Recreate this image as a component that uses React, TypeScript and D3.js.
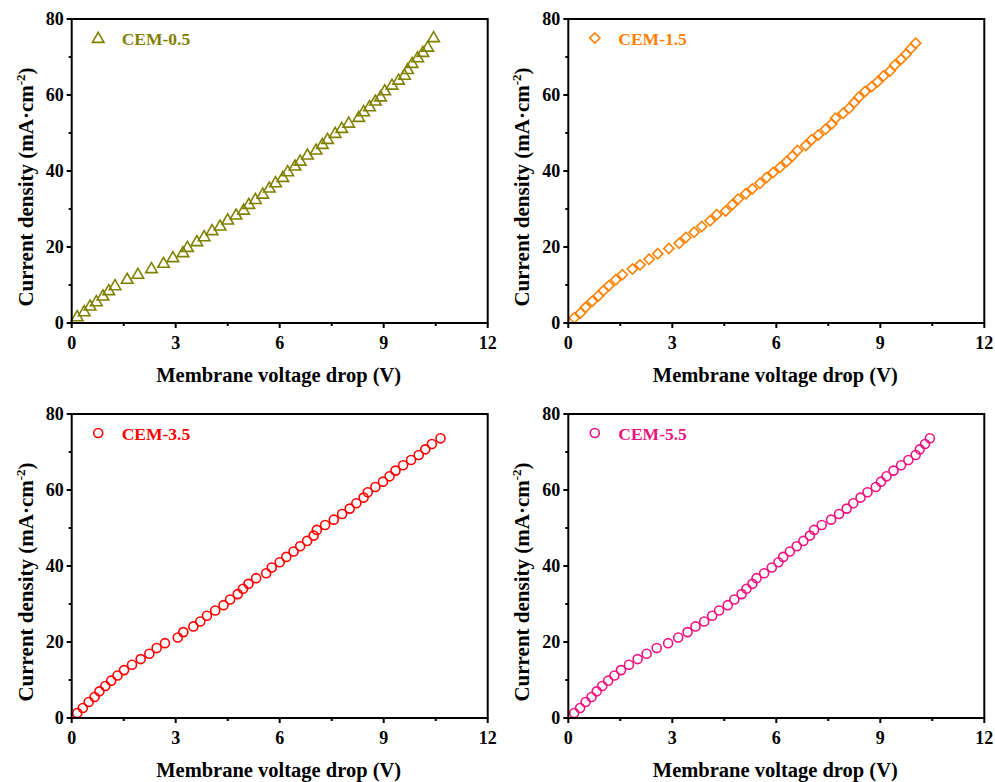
import React from "react";
import * as d3 from "d3";

const xTicks = [0, 3, 6, 9, 12];
const yTicks = [0, 20, 40, 60, 80];
const xMinor = [1.5, 4.5, 7.5, 10.5];
const yMinor = [10, 30, 50, 70];

const v05 = [0.16,0.36,0.53,0.71,0.90,1.07,1.25,1.60,1.91,2.30,2.65,2.92,3.21,3.34,3.61,3.82,4.05,4.28,4.50,4.74,4.96,5.11,5.30,5.51,5.70,5.88,6.09,6.23,6.44,6.59,6.80,7.05,7.23,7.38,7.60,7.79,7.99,8.28,8.42,8.59,8.76,8.91,9.03,9.24,9.43,9.60,9.69,9.82,9.98,10.13,10.27,10.44];
const j05 = [1.75,3.07,4.56,5.7,7.2,8.6,9.9,11.6,12.9,14.4,15.8,17.3,18.6,20.0,21.5,22.8,24.4,25.6,27.2,28.5,29.8,31.3,32.6,34.0,35.6,37.0,38.4,39.9,41.4,42.7,44.3,45.6,47.1,48.4,50.0,51.3,52.7,54.2,55.7,57.0,58.5,59.6,61.2,62.7,64.0,65.3,66.8,68.4,69.9,71.3,72.7,75.2];

const v15 = [0.17,0.35,0.50,0.69,0.87,1.01,1.17,1.37,1.56,1.85,2.07,2.33,2.58,2.90,3.20,3.39,3.63,3.85,4.09,4.28,4.54,4.73,4.90,5.12,5.31,5.53,5.72,5.91,6.11,6.30,6.46,6.61,6.85,7.02,7.21,7.42,7.60,7.71,7.93,8.10,8.25,8.38,8.56,8.75,8.92,9.09,9.28,9.42,9.60,9.74,9.88,10.02];
const j15 = [1.31,2.63,4.12,5.70,7.19,8.50,9.82,11.4,12.7,14.2,15.3,16.8,18.2,19.6,21.0,22.5,23.9,25.4,26.9,28.5,29.5,31.1,32.6,34.0,35.3,36.8,38.3,39.6,41.0,42.5,43.9,45.4,46.7,48.2,49.5,51.0,52.4,53.9,55.2,56.5,58.0,59.4,60.9,62.2,63.5,65.0,66.3,67.9,69.4,70.7,72.2,73.6];

const v35 = [0.16,0.32,0.49,0.66,0.80,0.97,1.14,1.32,1.51,1.74,1.99,2.24,2.45,2.69,3.06,3.22,3.51,3.71,3.90,4.14,4.38,4.57,4.79,4.94,5.10,5.32,5.61,5.77,6.00,6.19,6.40,6.59,6.79,6.98,7.07,7.31,7.56,7.80,8.02,8.21,8.42,8.54,8.76,8.98,9.17,9.34,9.56,9.79,10.01,10.20,10.39,10.64];
const j35 = [1.31,2.63,4.21,5.52,7.01,8.41,9.82,11.2,12.6,14.0,15.5,16.9,18.4,19.7,21.2,22.6,24.1,25.4,26.9,28.3,29.7,31.2,32.6,34.0,35.3,36.8,38.1,39.6,41.0,42.4,43.8,45.2,46.6,48.0,49.5,50.8,52.2,53.7,55.1,56.5,58.0,59.4,60.8,62.2,63.6,65.1,66.5,67.9,69.2,70.7,72.1,73.6];

const v55 = [0.17,0.34,0.50,0.67,0.82,0.98,1.15,1.33,1.52,1.75,2.00,2.26,2.55,2.88,3.17,3.44,3.67,3.92,4.15,4.35,4.60,4.79,5.00,5.14,5.31,5.43,5.65,5.87,6.06,6.20,6.39,6.59,6.78,6.97,7.09,7.31,7.58,7.81,8.03,8.22,8.43,8.63,8.87,9.02,9.18,9.38,9.60,9.81,10.02,10.14,10.29,10.43];
const j55 = [1.31,2.63,4.21,5.52,7.01,8.41,9.82,11.2,12.6,14.0,15.5,16.9,18.4,19.7,21.2,22.6,24.1,25.4,26.9,28.3,29.7,31.2,32.6,34.0,35.3,36.8,38.1,39.6,41.0,42.4,43.8,45.2,46.6,48.0,49.5,50.8,52.2,53.7,55.1,56.5,58.0,59.4,60.8,62.2,63.6,65.1,66.5,67.9,69.2,70.7,72.1,73.6];

const seriesNames = ["CEM-0.5", "CEM-1.5", "CEM-3.5", "CEM-5.5"];
const seriesColors = ["#808000", "#FF8000", "#FF0000", "#EE1280"];
const seriesShapes = ["triangle", "diamond", "circle", "circle"];
const seriesV = [v05, v15, v35, v55];
const seriesJ = [j05, j15, j35, j55];

const FONT = "'Liberation Serif', 'Times New Roman', serif";
const PW = 416;
const PH = 304;
const origins = [
  [71.7, 19],
  [568.3, 19],
  [71.7, 414],
  [568.3, 414],
];

const symbolTypes: Record<string, d3.SymbolType> = {
  triangle: d3.symbolTriangle,
  diamond: d3.symbolSquare,
  circle: d3.symbolCircle,
};
const symbolSizes: Record<string, number> = {
  triangle: 58,
  diamond: 52,
  circle: 64,
};

function Marker({ shape, x, y, color }: { shape: string; x: number; y: number; color: string }) {
  const path = d3.symbol().type(symbolTypes[shape]).size(symbolSizes[shape])()!;
  const rot = shape === "diamond" ? " rotate(45)" : "";
  const dy = shape === "triangle" ? 1 : 0;
  return (
    <path
      d={path}
      transform={`translate(${x},${y + dy})${rot}`}
      fill="none"
      stroke={color}
      strokeWidth={1.6}
    />
  );
}

function Panel({ idx }: { idx: number }) {
  const [ox, oy] = origins[idx];
  const x = d3.scaleLinear().domain([0, 12]).range([0, PW]);
  const y = d3.scaleLinear().domain([0, 80]).range([PH, 0]);
  const color = seriesColors[idx];
  const shape = seriesShapes[idx];
  const vs = seriesV[idx];
  const js = seriesJ[idx];
  return (
    <g transform={`translate(${ox},${oy})`}>
      {vs.map((v, i) => (
        <Marker key={i} shape={shape} x={x(v)} y={y(js[i])} color={color} />
      ))}
      <rect x={0} y={0} width={PW} height={PH} fill="none" stroke="#000" strokeWidth={2} />
      {xTicks.map((t) => (
        <g key={"xt" + t}>
          <line x1={x(t)} x2={x(t)} y1={PH} y2={PH + 5} stroke="#000" strokeWidth={2} />
          <text
            x={x(t)}
            y={PH + 26}
            textAnchor="middle"
            fontFamily={FONT}
            fontWeight="bold"
            fontSize={18}
          >
            {t}
          </text>
        </g>
      ))}
      {xMinor.map((t) => (
        <line key={"xm" + t} x1={x(t)} x2={x(t)} y1={PH} y2={PH + 3} stroke="#000" strokeWidth={2} />
      ))}
      {yTicks.map((t) => (
        <g key={"yt" + t}>
          <line x1={-5} x2={0} y1={y(t)} y2={y(t)} stroke="#000" strokeWidth={2} />
          <text
            x={-8}
            y={y(t) + 6}
            textAnchor="end"
            fontFamily={FONT}
            fontWeight="bold"
            fontSize={18}
          >
            {t}
          </text>
        </g>
      ))}
      {yMinor.map((t) => (
        <line key={"ym" + t} x1={-3} x2={0} y1={y(t)} y2={y(t)} stroke="#000" strokeWidth={2} />
      ))}
      <text
        x={PW / 2 - 1}
        y={PH + 59}
        textAnchor="middle"
        fontFamily={FONT}
        fontWeight="bold"
        fontSize={20.5}
      >
        Membrane voltage drop (V)
      </text>
      <text
        transform={`translate(${-39},${168}) rotate(-90)`}
        textAnchor="middle"
        fontFamily={FONT}
        fontWeight="bold"
        fontSize={21}
      >
        Current density (mA·cm
        <tspan dy={-8} fontSize={13}>-2</tspan>
        <tspan dy={8}>)</tspan>
      </text>
      <Marker shape={shape} x={26.5} y={19} color={color} />
      <text x={50} y={26} fontFamily={FONT} fontWeight="bold" fontSize={17.5} fill={color}>
        {seriesNames[idx]}
      </text>
    </g>
  );
}

export default function App() {
  return (
    <div style={{ position: "absolute", left: 0, top: 0 }}>
      <svg width={995} height={782} viewBox="0 0 995 782" style={{ display: "block", background: "#fff" }}>
        {[0, 1, 2, 3].map((i) => (
          <Panel key={i} idx={i} />
        ))}
      </svg>
    </div>
  );
}
